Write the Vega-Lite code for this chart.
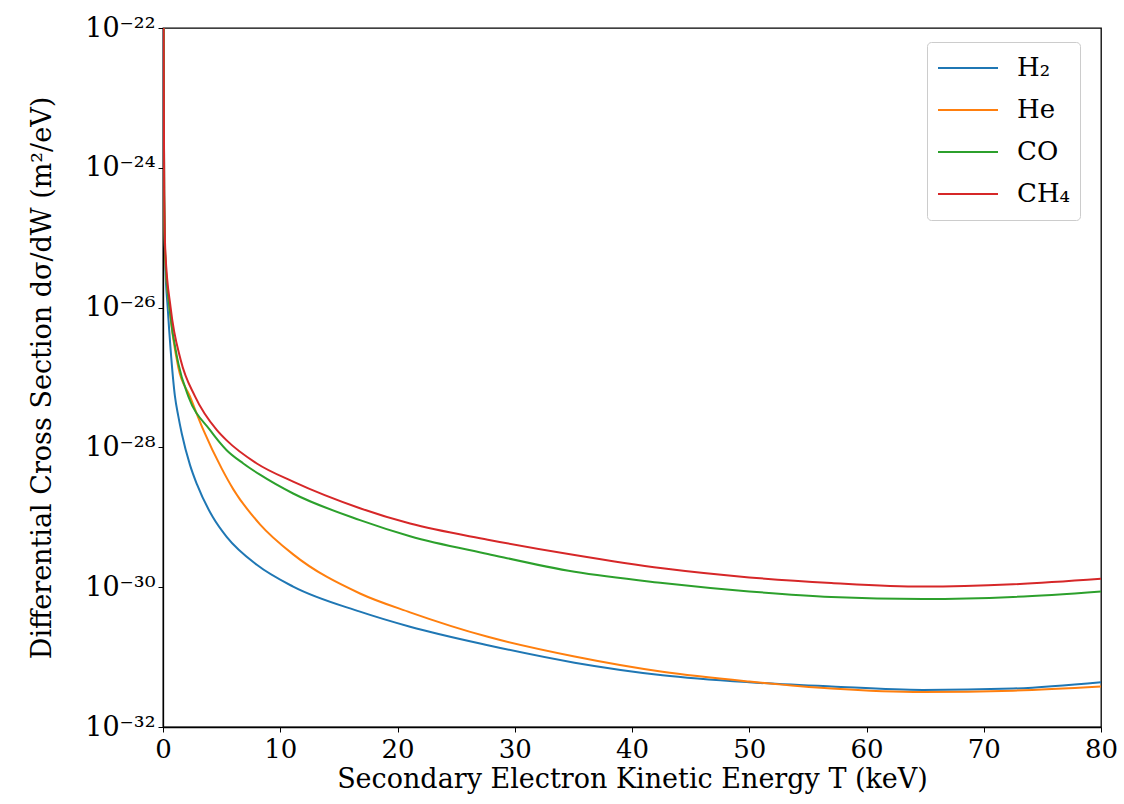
{
  "$schema": "https://vega.github.io/schema/vega-lite/v6.json",
  "width": 938,
  "height": 699,
  "autosize": {"type": "none"},
  "padding": {"left": 163, "top": 28, "right": 23, "bottom": 77},
  "background": "white",
  "config": {
    "font": "DejaVu Serif",
    "view": {"stroke": "black", "strokeWidth": 1.3},
    "axis": {
      "domainColor": "black", "domainWidth": 1.3,
      "tickColor": "black", "tickSize": 5, "tickWidth": 1,
      "labelColor": "black", "titleColor": "black",
      "labelFont": "DejaVu Serif", "titleFont": "DejaVu Serif",
      "labelFontSize": 26, "titleFontSize": 27,
      "titleFontWeight": "normal", "grid": false
    }
  },
  "data": {"values": [
    {"T": 0.04, "sigma": 3.16e-22, "gas": "H₂"},
    {"T": 0.1, "sigma": 3.98e-25, "gas": "H₂"},
    {"T": 0.2, "sigma": 3.98e-26, "gas": "H₂"},
    {"T": 0.4, "sigma": 1e-26, "gas": "H₂"},
    {"T": 0.65, "sigma": 2.51e-27, "gas": "H₂"},
    {"T": 1.02, "sigma": 5.37e-28, "gas": "H₂"},
    {"T": 1.3, "sigma": 2.82e-28, "gas": "H₂"},
    {"T": 1.6, "sigma": 1.58e-28, "gas": "H₂"},
    {"T": 2.3, "sigma": 5.62e-29, "gas": "H₂"},
    {"T": 2.9, "sigma": 2.95e-29, "gas": "H₂"},
    {"T": 4.26, "sigma": 1.0e-29, "gas": "H₂"},
    {"T": 5.43, "sigma": 5.25e-30, "gas": "H₂"},
    {"T": 8.0, "sigma": 2.09e-30, "gas": "H₂"},
    {"T": 11.1, "sigma": 1.02e-30, "gas": "H₂"},
    {"T": 16.8, "sigma": 4.47e-31, "gas": "H₂"},
    {"T": 21.07, "sigma": 2.72e-31, "gas": "H₂"},
    {"T": 27.7, "sigma": 1.48e-31, "gas": "H₂"},
    {"T": 35.1, "sigma": 8.32e-32, "gas": "H₂"},
    {"T": 42.6, "sigma": 5.5e-32, "gas": "H₂"},
    {"T": 50, "sigma": 4.37e-32, "gas": "H₂"},
    {"T": 57, "sigma": 3.8e-32, "gas": "H₂"},
    {"T": 64.8, "sigma": 3.39e-32, "gas": "H₂"},
    {"T": 72.5, "sigma": 3.55e-32, "gas": "H₂"},
    {"T": 80, "sigma": 4.37e-32, "gas": "H₂"},

    {"T": 0.04, "sigma": 3.16e-22, "gas": "He"},
    {"T": 0.1, "sigma": 3.98e-25, "gas": "He"},
    {"T": 0.2, "sigma": 5.01e-26, "gas": "He"},
    {"T": 0.55, "sigma": 1e-26, "gas": "He"},
    {"T": 1.3, "sigma": 1.41e-27, "gas": "He"},
    {"T": 2.3, "sigma": 5.37e-28, "gas": "He"},
    {"T": 3.44, "sigma": 1.78e-28, "gas": "He"},
    {"T": 5.0, "sigma": 5.01e-29, "gas": "He"},
    {"T": 6.0, "sigma": 2.51e-29, "gas": "He"},
    {"T": 8.27, "sigma": 7.94e-30, "gas": "He"},
    {"T": 11.1, "sigma": 2.95e-30, "gas": "He"},
    {"T": 16.8, "sigma": 8.13e-31, "gas": "He"},
    {"T": 21.07, "sigma": 4.37e-31, "gas": "He"},
    {"T": 27.7, "sigma": 1.95e-31, "gas": "He"},
    {"T": 35.1, "sigma": 1.02e-31, "gas": "He"},
    {"T": 42.6, "sigma": 6.17e-32, "gas": "He"},
    {"T": 50, "sigma": 4.47e-32, "gas": "He"},
    {"T": 57, "sigma": 3.55e-32, "gas": "He"},
    {"T": 64.8, "sigma": 3.16e-32, "gas": "He"},
    {"T": 72.5, "sigma": 3.31e-32, "gas": "He"},
    {"T": 80, "sigma": 3.8e-32, "gas": "He"},

    {"T": 0.04, "sigma": 3.16e-22, "gas": "CO"},
    {"T": 0.1, "sigma": 3.98e-25, "gas": "CO"},
    {"T": 0.2, "sigma": 5.01e-26, "gas": "CO"},
    {"T": 0.55, "sigma": 1e-26, "gas": "CO"},
    {"T": 1.31, "sigma": 1.58e-27, "gas": "CO"},
    {"T": 2.16, "sigma": 5.37e-28, "gas": "CO"},
    {"T": 4.0, "sigma": 1.78e-28, "gas": "CO"},
    {"T": 5.43, "sigma": 9.12e-29, "gas": "CO"},
    {"T": 6.85, "sigma": 5.89e-29, "gas": "CO"},
    {"T": 8.27, "sigma": 4.07e-29, "gas": "CO"},
    {"T": 11.1, "sigma": 2.19e-29, "gas": "CO"},
    {"T": 16.8, "sigma": 9.12e-30, "gas": "CO"},
    {"T": 21.07, "sigma": 5.37e-30, "gas": "CO"},
    {"T": 27.7, "sigma": 2.99e-30, "gas": "CO"},
    {"T": 35.1, "sigma": 1.66e-30, "gas": "CO"},
    {"T": 42.6, "sigma": 1.15e-30, "gas": "CO"},
    {"T": 50, "sigma": 8.71e-31, "gas": "CO"},
    {"T": 57, "sigma": 7.24e-31, "gas": "CO"},
    {"T": 64.8, "sigma": 6.76e-31, "gas": "CO"},
    {"T": 72.5, "sigma": 7.24e-31, "gas": "CO"},
    {"T": 80, "sigma": 8.71e-31, "gas": "CO"},

    {"T": 0.04, "sigma": 3.16e-22, "gas": "CH₄"},
    {"T": 0.1, "sigma": 5.01e-25, "gas": "CH₄"},
    {"T": 0.2, "sigma": 6.31e-26, "gas": "CH₄"},
    {"T": 0.65, "sigma": 1e-26, "gas": "CH₄"},
    {"T": 1.51, "sigma": 1.78e-27, "gas": "CH₄"},
    {"T": 2.73, "sigma": 5.37e-28, "gas": "CH₄"},
    {"T": 4.58, "sigma": 1.78e-28, "gas": "CH₄"},
    {"T": 5.43, "sigma": 1.26e-28, "gas": "CH₄"},
    {"T": 8.0, "sigma": 5.89e-29, "gas": "CH₄"},
    {"T": 11.1, "sigma": 3.24e-29, "gas": "CH₄"},
    {"T": 16.8, "sigma": 1.35e-29, "gas": "CH₄"},
    {"T": 21.07, "sigma": 8.13e-30, "gas": "CH₄"},
    {"T": 27.7, "sigma": 4.79e-30, "gas": "CH₄"},
    {"T": 35.1, "sigma": 2.88e-30, "gas": "CH₄"},
    {"T": 42.6, "sigma": 1.86e-30, "gas": "CH₄"},
    {"T": 50, "sigma": 1.38e-30, "gas": "CH₄"},
    {"T": 57, "sigma": 1.15e-30, "gas": "CH₄"},
    {"T": 64.8, "sigma": 1.02e-30, "gas": "CH₄"},
    {"T": 72.5, "sigma": 1.1e-30, "gas": "CH₄"},
    {"T": 80, "sigma": 1.32e-30, "gas": "CH₄"}
  ]},
  "mark": {"type": "line", "strokeWidth": 2, "clip": true, "interpolate": "monotone"},
  "encoding": {
    "x": {
      "field": "T", "type": "quantitative",
      "scale": {"domain": [0, 80], "nice": false, "zero": false},
      "axis": {"values": [0, 10, 20, 30, 40, 50, 60, 70, 80], "title": "Secondary Electron Kinetic Energy T (keV)", "titlePadding": 4, "labelPadding": 4, "labelFlush": false}
    },
    "y": {
      "field": "sigma", "type": "quantitative",
      "scale": {"type": "log", "domain": [1e-32, 1e-22], "nice": false},
      "axis": {
        "values": [1e-32, 1e-30, 1e-28, 1e-26, 1e-24, 1e-22],
        "labelExpr": "'10⁻' + substring('⁰¹²³⁴⁵⁶⁷⁸⁹', floor(-round(log(datum.value)/LN10)/10), floor(-round(log(datum.value)/LN10)/10)+1) + substring('⁰¹²³⁴⁵⁶⁷⁸⁹', (-round(log(datum.value)/LN10))%10, (-round(log(datum.value)/LN10))%10+1)",
        "title": "Differential Cross Section dσ/dW (m²/eV)",
        "labelFontSize": 27,
        "labelPadding": 3,
        "titlePadding": 28,
        "labelFlush": false
      }
    },
    "color": {
      "field": "gas", "type": "nominal",
      "scale": {"domain": ["H₂", "He", "CO", "CH₄"], "range": ["#1f77b4", "#ff7f0e", "#2ca02c", "#d62728"]},
      "legend": {
        "title": null,
        "orient": "none",
        "legendX": 764,
        "legendY": 14,
        "symbolType": "stroke",
        "symbolSize": 3600,
        "symbolStrokeWidth": 2,
        "clipHeight": 32,
        "labelFont": "DejaVu Serif",
        "labelFontSize": 26,
        "labelColor": "black",
        "labelOffset": 18,
        "rowPadding": 10,
        "padding": 10,
        "strokeColor": "#cccccc",
        "fillColor": "white",
        "cornerRadius": 4
      }
    },
    "detail": {"field": "gas"}
  }
}
